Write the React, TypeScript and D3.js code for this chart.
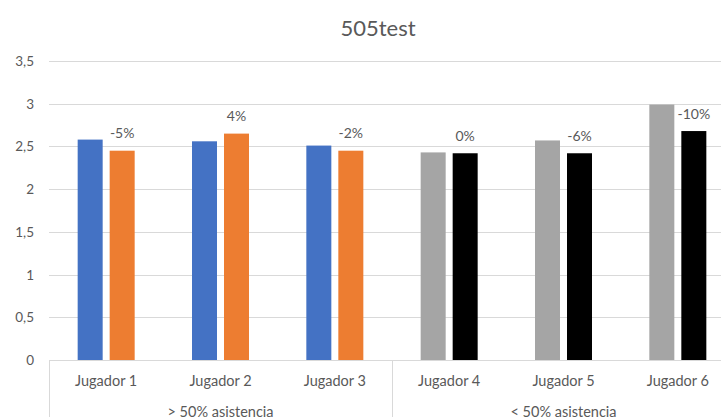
import React from "react";
import * as d3 from "d3";

const categories = ["Jugador 1", "Jugador 2", "Jugador 3", "Jugador 4", "Jugador 5", "Jugador 6"];
const groups = ["> 50% asistencia", "< 50% asistencia"];
const groupOf = [0, 0, 0, 1, 1, 1];
const test1 = [2.58, 2.56, 2.51, 2.43, 2.57, 2.99];
const test2 = [2.45, 2.65, 2.45, 2.42, 2.42, 2.68];
const changeLabels = ["-5%", "4%", "-2%", "0%", "-6%", "-10%"];
const yTicks = [0, 0.5, 1, 1.5, 2, 2.5, 3, 3.5];
const colors1 = ["#4472C4", "#A5A5A5"];
const colors2 = ["#ED7D31", "#000000"];
const title = "505test";

const W = 721, H = 417;
const left = 49, right = 735, top = 61, bottom = 360;
const font = "Lato, 'Open Sans', sans-serif";
const textColor = "#595959";
const gridColor = "#d9d9d9";

export default function App() {
  const x = d3.scaleBand<string>().domain(categories).range([left, right]).padding(0);
  const y = d3.scaleLinear().domain([0, 3.5]).range([bottom, top]);
  const sub = d3.scaleBand<string>().domain(["a", "b"]).range([-28.5, 28.5]).paddingInner(0.21875).paddingOuter(0);
  const fmt = (v: number) => String(v).replace(".", ",");
  const groupW = x.step() * 3;

  return (
    <svg width={W} height={H} style={{ position: "absolute", left: 0, top: 0, background: "#fff" }} fontFamily={font}>
      <rect x={0} y={0} width={W} height={H} fill="#fff" />
      <text x={378} y={27} textAnchor="middle" dominantBaseline="central" fontSize={22} fill={textColor}>{title}</text>
      {yTicks.map((t) => (
        <g key={t}>
          {t > 0 && <line x1={left} x2={right} y1={Math.round(y(t)) + 0.5} y2={Math.round(y(t)) + 0.5} stroke={gridColor} />}
          <text x={34} y={y(t)} textAnchor="end" dominantBaseline="central" fontSize={13.5} fill={textColor}>{fmt(t)}</text>
        </g>
      ))}
      {categories.map((c, i) => {
        const cx = (x(c) as number) + x.bandwidth() / 2;
        const g = groupOf[i];
        const xa = cx + (sub("a") as number);
        const xb = cx + (sub("b") as number);
        return (
          <g key={c}>
            <rect x={xa} y={y(test1[i])} width={sub.bandwidth()} height={bottom - y(test1[i])} fill={colors1[g]} />
            <rect x={xb} y={y(test2[i])} width={sub.bandwidth()} height={bottom - y(test2[i])} fill={colors2[g]} />
            <text x={xb + sub.bandwidth() / 2} y={y(test2[i]) - 18} textAnchor="middle" dominantBaseline="central" fontSize={14} fill={textColor}>{changeLabels[i]}</text>
            <text x={cx} y={380} textAnchor="middle" dominantBaseline="central" fontSize={14.5} fill={textColor}>{c}</text>
          </g>
        );
      })}
      <line x1={left} x2={right} y1={bottom + 0.5} y2={bottom + 0.5} stroke={gridColor} />
      {groups.map((gname, gi) => {
        const gx = left + gi * groupW;
        return (
          <g key={gname}>
            <line x1={Math.round(gx) + 0.5} x2={Math.round(gx) + 0.5} y1={bottom} y2={H} stroke={gridColor} />
            <text x={gx + groupW / 2} y={411.5} textAnchor="middle" dominantBaseline="central" fontSize={14.5} fill={textColor}>{gname}</text>
          </g>
        );
      })}
    </svg>
  );
}
